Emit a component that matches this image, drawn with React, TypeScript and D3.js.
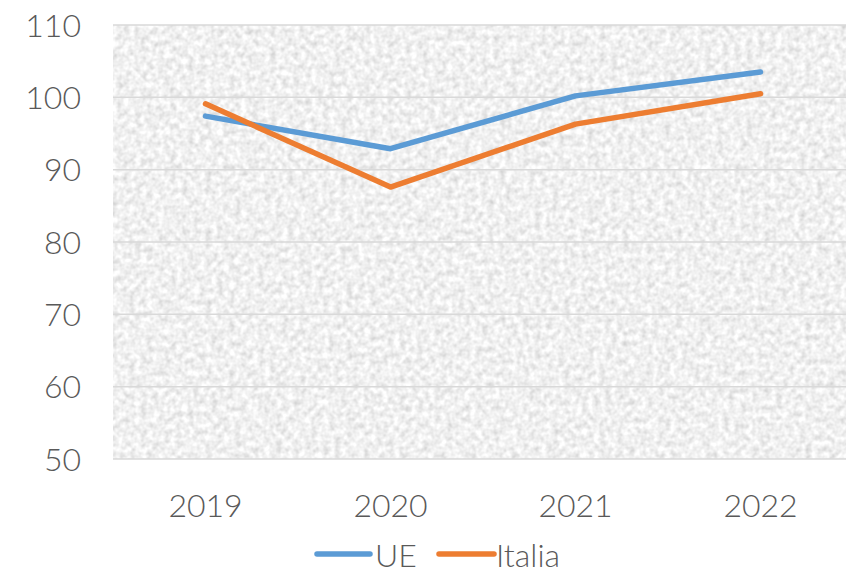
import React from "react";
import * as d3 from "d3";

const years = ["2019", "2020", "2021", "2022"];
const ueValues = [97.4, 92.9, 100.2, 103.5];
const italiaValues = [99.1, 87.6, 96.3, 100.5];
const yTicks = [50, 60, 70, 80, 90, 100, 110];

const W = 846;
const H = 573;
const left = 113;
const top = 25;
const bottom = 459;
const right = 853;

export default function App() {
  const x = d3.scaleBand<string>().domain(years).range([left, right]);
  const y = d3.scaleLinear().domain([50, 110]).range([bottom, top]);
  const line = d3
    .line<number>()
    .x((_, i) => (x(years[i]) as number) + x.bandwidth() / 2)
    .y((d) => y(d));
  const font = "'Century Gothic', 'URW Gothic', Lato, 'DejaVu Sans', sans-serif";
  const fs = 32;
  const series = [
    { name: "UE", values: ueValues, color: "#5B9BD5" },
    { name: "Italia", values: italiaValues, color: "#ED7D31" },
  ];
  return (
    <svg
      width={W}
      height={H}
      style={{ position: "absolute", left: 0, top: 0, background: "#fff" }}
      fontFamily={font}
      fontWeight={300}
    >
      <defs>
        <filter id="noise" x="0" y="0" width="100%" height="100%" filterUnits="objectBoundingBox">
          <feTurbulence type="fractalNoise" baseFrequency="0.17" numOctaves="2" seed="4" />
          <feColorMatrix
            type="matrix"
            values="0.55 0 0 0 0.6  0.55 0 0 0 0.6  0.55 0 0 0 0.6  0 0 0 0 1"
          />
        </filter>
      </defs>
      <rect x={left} y={top} width={right - left} height={bottom - top} fill="#eee" filter="url(#noise)" />
      {yTicks.map((t) => (
        <line key={t} x1={left} x2={right} y1={y(t)} y2={y(t)} stroke="#d9d9d9" strokeWidth={1.5} />
      ))}
      {yTicks.map((t) => (
        <text key={"l" + t} x={81} y={y(t)} dy="0.36em" textAnchor="end" fontSize={fs} fill="#595959">
          {t}
        </text>
      ))}
      {years.map((yr) => (
        <text
          key={yr}
          x={(x(yr) as number) + x.bandwidth() / 2}
          y={517}
          textAnchor="middle"
          fontSize={fs}
          fill="#595959"
        >
          {yr}
        </text>
      ))}
      {series.map((s) => (
        <path
          key={s.name}
          d={line(s.values) as string}
          fill="none"
          stroke={s.color}
          strokeWidth={5.5}
          strokeLinecap="round"
          strokeLinejoin="round"
        />
      ))}
      <g>
        <line x1={317} x2={370} y1={554} y2={554} stroke="#5B9BD5" strokeWidth={5.5} strokeLinecap="round" />
        <text x={375} y={567} fontSize={fs} fill="#595959">UE</text>
        <line x1={439} x2={494} y1={554} y2={554} stroke="#ED7D31" strokeWidth={5.5} strokeLinecap="round" />
        <text x={496} y={567} fontSize={fs} fill="#595959">Italia</text>
      </g>
    </svg>
  );
}
